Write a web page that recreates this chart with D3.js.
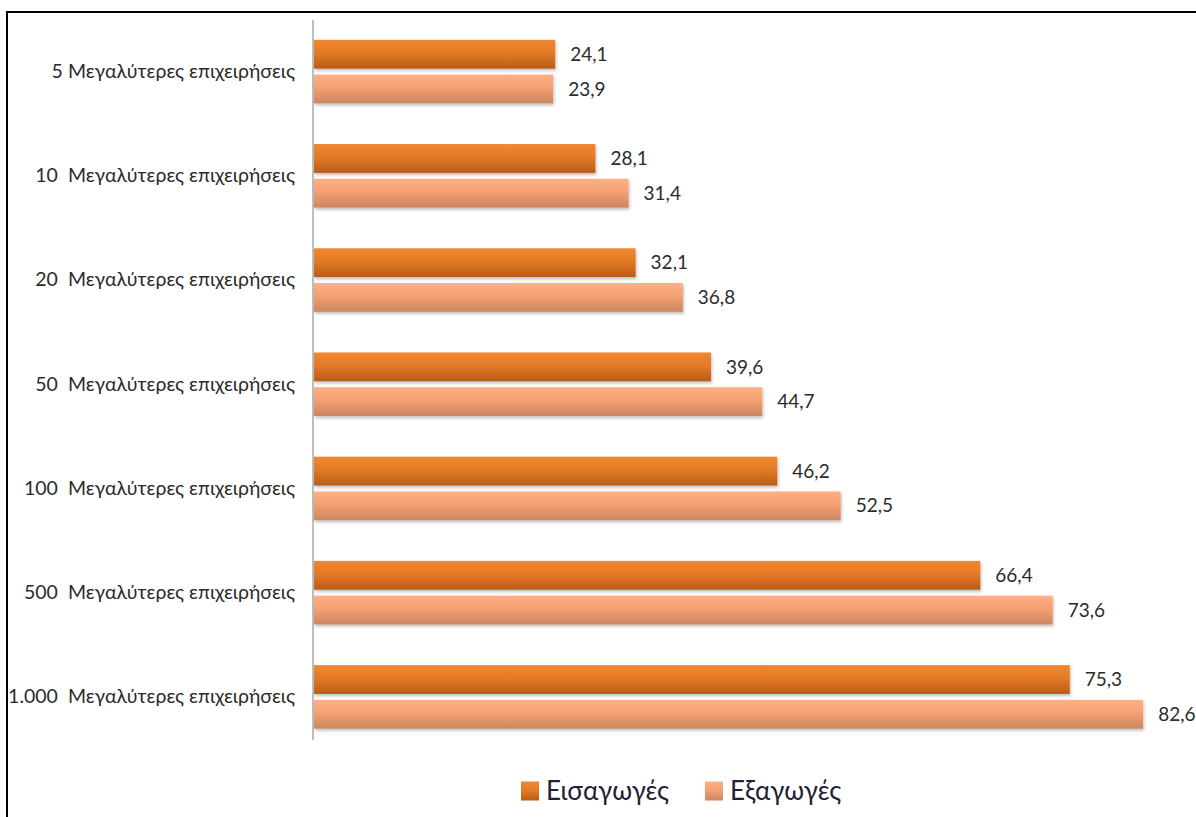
<!DOCTYPE html>
<html>
<head>
<meta charset="utf-8">
<script src="https://cdn.jsdelivr.net/npm/d3@7"></script>
<style>
  html, body { margin: 0; padding: 0; background: #fff; }
  svg { display: block; }
  text { white-space: pre; }
</style>
</head>
<body>
<svg id="chart" width="1196" height="817"></svg>
<script>
// Chart data
const categories = [
  "5 Μεγαλύτερες επιχειρήσεις",
  "10  Μεγαλύτερες επιχειρήσεις",
  "20  Μεγαλύτερες επιχειρήσεις",
  "50  Μεγαλύτερες επιχειρήσεις",
  "100  Μεγαλύτερες επιχειρήσεις",
  "500  Μεγαλύτερες επιχειρήσεις",
  "1.000  Μεγαλύτερες επιχειρήσεις"
];
const seriesNames = ["Εισαγωγές", "Εξαγωγές"];
const imports = [24.1, 28.1, 32.1, 39.6, 46.2, 66.4, 75.3];
const exports = [23.9, 31.4, 36.8, 44.7, 52.5, 73.6, 82.6];

const seriesValues = [imports, exports];
const rows = categories.map((c, i) => ({
  category: c,
  values: seriesNames.map((s, k) => ({ series: s, value: seriesValues[k][i] }))
}));

const svg = d3.select("#chart");
const fmt = d3.formatLocale({ decimal: ",", thousands: ".", grouping: [3], currency: ["", "€"] }).format(".1f");

// Outer frame
svg.append("rect")
  .attr("x", 7).attr("y", 12)
  .attr("width", 1220).attr("height", 840)
  .attr("fill", "#fff")
  .attr("stroke", "#000")
  .attr("stroke-width", 2);

// Gradients for the bar fills
const defs = svg.append("defs");
const gradients = [
  { id: "g-imp", top: "#F08832", mid: "#E47A26", bottom: "#B85C18" },
  { id: "g-exp", top: "#FFB084", mid: "#F4A072", bottom: "#CB8662" }
];
gradients.forEach(g => {
  const lg = defs.append("linearGradient").attr("id", g.id)
    .attr("x1", 0).attr("y1", 0).attr("x2", 0).attr("y2", 1);
  lg.append("stop").attr("offset", "0%").attr("stop-color", g.top);
  lg.append("stop").attr("offset", "45%").attr("stop-color", g.mid);
  lg.append("stop").attr("offset", "100%").attr("stop-color", g.bottom);
});
const shadow = defs.append("filter").attr("id", "shadow")
  .attr("x", "-5%").attr("y", "-20%").attr("width", "110%").attr("height", "160%");
shadow.append("feDropShadow")
  .attr("dx", 1).attr("dy", 2).attr("stdDeviation", 1.5)
  .attr("flood-color", "#000").attr("flood-opacity", 0.25);

const colorScale = d3.scaleOrdinal().domain(seriesNames).range(["url(#g-imp)", "url(#g-exp)"]);

// Scales
const x = d3.scaleLinear().domain([0, 100]).range([313, 1318]);
const y = d3.scaleBand().domain(categories).range([19.5, 749]).paddingInner(0.39).paddingOuter(0.195);
const ySub = d3.scaleBand().domain(seriesNames).range([0, y.bandwidth()]).paddingInner(0.17);

// Category axis
const yAxis = d3.axisLeft(y).tickSize(0).tickPadding(18);
const gAxis = svg.append("g").attr("transform", `translate(${x(0)},0)`).call(yAxis);
gAxis.select(".domain").remove();
gAxis.selectAll("text")
  .attr("font-family", "Lato, 'Open Sans', sans-serif")
  .attr("font-size", 19.5)
  .attr("fill", "#2b2b2b");

svg.append("line")
  .attr("x1", x(0)).attr("x2", x(0))
  .attr("y1", 20).attr("y2", 740)
  .attr("stroke", "#a8a8a8").attr("stroke-width", 1.5);

// Bars
const groups = svg.append("g").selectAll("g")
  .data(rows).join("g")
  .attr("transform", d => `translate(0,${y(d.category)})`);

groups.selectAll("rect")
  .data(d => d.values).join("rect")
  .attr("x", x(0) + 1)
  .attr("y", d => ySub(d.series))
  .attr("width", d => x(d.value) - x(0) - 1)
  .attr("height", ySub.bandwidth())
  .attr("fill", d => colorScale(d.series))
  .attr("filter", "url(#shadow)");

groups.selectAll("text.val")
  .data(d => d.values).join("text")
  .attr("class", "val")
  .attr("x", d => x(d.value) + 15)
  .attr("y", d => ySub(d.series) + ySub.bandwidth() / 2)
  .attr("dy", "0.35em")
  .attr("font-family", "Lato, 'Open Sans', sans-serif")
  .attr("font-size", 19)
  .attr("fill", "#2b2b2b")
  .text(d => fmt(d.value));

// Legend
const legend = svg.append("g").attr("transform", "translate(0,791)");
const legendX = [521, 705];
const items = legend.selectAll("g").data(seriesNames).join("g")
  .attr("transform", (d, i) => `translate(${legendX[i]},0)`);
items.append("rect")
  .attr("x", 0).attr("y", -9.5)
  .attr("width", 18).attr("height", 19)
  .attr("fill", d => colorScale(d));
items.append("text")
  .attr("x", 25).attr("y", 0).attr("dy", "0.35em")
  .attr("font-family", "Lato, 'Open Sans', sans-serif")
  .attr("font-size", 26)
  .attr("fill", "#1f2233")
  .text(d => d);
</script>
</body>
</html>
